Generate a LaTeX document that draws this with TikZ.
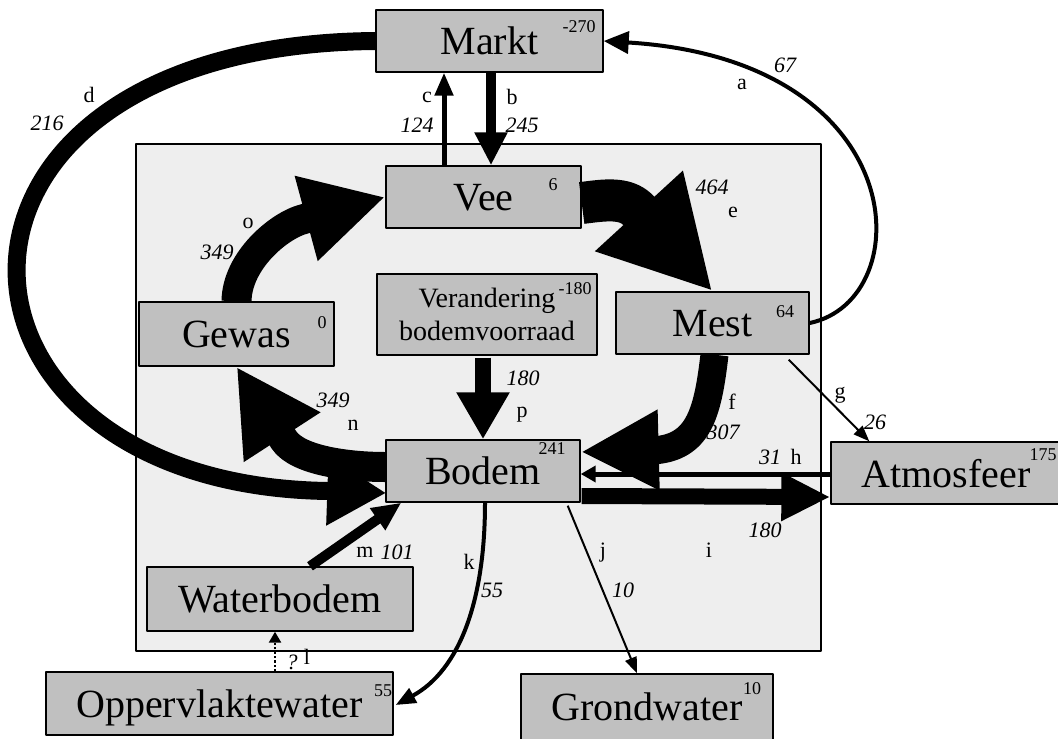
\documentclass[tikz,border=0pt]{standalone}
\usepackage{fontspec}
\setmainfont{Liberation Serif}
\usetikzlibrary{arrows.meta,calc}
\definecolor{boxgrey}{HTML}{C0C0C0}
\definecolor{farmgrey}{HTML}{EEEEEE}

\begin{document}
\begin{tikzpicture}[x=0.5pt,y=-0.5pt,line join=round,
  box/.style={draw,line width=0.7pt,fill=boxgrey,inner sep=0pt,text depth=0pt,font=\fontsize{20}{24}\selectfont},
  sup/.style={inner sep=0pt,font=\fontsize{9}{10}\selectfont},
  lbl/.style={inner sep=0pt,font=\fontsize{11}{13}\selectfont},
  num/.style={inner sep=0pt,font=\fontsize{11}{13}\selectfont\itshape},
  flow/.style n args={3}{line width=#1,-{Triangle[length=#2,width=#3]}}]

\useasboundingbox (0,0) rectangle (1058,738);

% Bedrijf
\filldraw[draw=black,fill=farmgrey,line width=0.6pt] (136,144) rectangle (821,651);

\node[box,minimum width=113.5pt,minimum height=31pt] (markt) at (489.5,41) {Markt};
\node[sup] (markt-n) at (579,27) {-270};

\node[box,minimum width=97.5pt,minimum height=31pt] (vee) at (483.5,197) {Vee};
\node[sup] (vee-n) at (553,185) {6};

\node[box,minimum width=97.5pt,minimum height=32pt] (gewas) at (236.5,334) {Gewas};
\node[sup] (gewas-n) at (322,323) {0};

\node[box,minimum width=110pt,minimum height=40.5pt,align=center,text depth=,font=\fontsize{14}{16.5}\selectfont] (verandering) at (487,314.5) {Verandering\\bodemvoorraad};
\node[sup] (verandering-n) at (575,289) {-180};

\node[box,minimum width=96.5pt,minimum height=31pt] (mest) at (712.5,323) {Mest};
\node[sup] (mest-n) at (785,312) {64};

\node[box,minimum width=97pt,minimum height=31pt] (bodem) at (483,471) {Bodem};
\node[sup] (bodem-n) at (552,449) {241};

\node[box,minimum width=115pt,minimum height=31pt] (atmosfeer) at (946,473) {Atmosfeer};
\node[sup] (atmosfeer-n) at (1043,455) {175};

\node[box,minimum width=133pt,minimum height=32pt] (waterbodem) at (280,599) {Waterbodem};

\node[box,minimum width=173.5pt,minimum height=31.5pt] (oppervlaktewater) at (219.5,703.5) {Oppervlaktewater};
\node[sup] (oppervlaktewater-n) at (383,691) {55};

\node[box,minimum width=126pt,minimum height=33pt] (grondwater) at (647,707) {Grondwater};
\node[sup] (grondwater-n) at (752,689) {10};

% Stromen
\draw[flow={2pt}{12.5pt}{11pt}] (mest.east) .. controls (920,300) and (915,60) .. (markt.east);
\draw[flow={5pt}{16.5pt}{15.5pt}] ($(markt.south)+(1.5,0)$) -- ($(vee.north)+(7.5,0)$);
\draw[flow={2.5pt}{11.5pt}{9pt}] ($(vee.north)+(-39.5,0)$) -- ($(markt.south)+(-45.5,0)$);
\draw[flow={9pt}{29.5pt}{32.5pt}] (markt.west) .. controls (-105,45) and (-85,485) .. (328,491) -- ($(bodem.west)+(1,22)$);
\draw[flow={21pt}{54.5pt}{55.5pt}] ($(vee.east)+(0,6)$) .. controls (605,200) and (625,197) .. (638,210) -- (mest.north);
\draw[flow={14pt}{39pt}{37.5pt}] ($(mest.south)+(2,0)$) .. controls (708,410) and (700,445) .. (658,450) -- ($(bodem.east)+(0,-19)$);
\draw[flow={1pt}{8pt}{6pt}] ($(mest.south east)+(-21,5)$) -- ($(atmosfeer.north west)+(39,0)$);
\draw[flow={2.5pt}{7.5pt}{8pt}] ($(atmosfeer.west)+(0,1)$) -- ($(bodem.east)+(0,3)$);
\draw[flow={8pt}{24.5pt}{22.5pt}] ($(bodem.east)+(1,25)$) -- ($(atmosfeer.west)+(0,24)$);
\draw[flow={1pt}{8pt}{6pt}] ($(bodem.south east)+(-13,3)$) -- ($(grondwater.north)+(-10,0)$);
\draw[flow={2pt}{10pt}{8pt}] ($(bodem.south)+(2,0)$) .. controls (485,600) and (460,670) .. ($(oppervlaktewater.east)+(2,1.5)$);
\draw[flow={1.2pt}{5.5pt}{6pt},densely dotted] ($(oppervlaktewater.north)+(55.5,0)$) -- ($(waterbodem.south)+(-5,0)$);
\draw[flow={5pt}{14.5pt}{12.5pt}] ($(waterbodem.north)+(30,0)$) -- ($(bodem.south west)+(16,0)$);
\draw[flow={15pt}{42pt}{42.5pt}] ($(bodem.west)+(0,-4)$) .. controls (350,467) and (298,461) .. (284,440) -- (gewas.south);
\draw[flow={15pt}{41pt}{41pt}] (gewas.north) .. controls (237,260) and (280,225) .. (304,219) -- (vee.west);
\draw[flow={8pt}{23.5pt}{25pt}] ($(verandering.south)+(-4,2)$) -- (bodem.north);

% Labels
\node[lbl] (a-lbl) at (742,84) {a};   \node[num] (a-val) at (785,65) {67};
\node[lbl] (b-lbl) at (512,97) {b};   \node[num] (b-val) at (522,125) {245};
\node[lbl] (c-lbl) at (427,97) {c};   \node[num] (c-val) at (417,125) {124};
\node[lbl] (d-lbl) at (89,95) {d};    \node[num] (d-val) at (47,123) {216};
\node[lbl] (e-lbl) at (733,212) {e};  \node[num] (e-val) at (712,187) {464};
\node[lbl] (f-lbl) at (732,402) {f};  \node[num] (f-val) at (723,432) {307};
\node[lbl] (g-lbl) at (840,395) {g};  \node[num] (g-val) at (875,422) {26};
\node[lbl] (h-lbl) at (796,457) {h};  \node[num] (h-val) at (770,457) {31};
\node[lbl] (i-lbl) at (709,550) {i};  \node[num] (i-val) at (765,530) {180};
\node[lbl] (j-lbl) at (603,553) {j};  \node[num] (j-val) at (623,590) {10};
\node[lbl] (k-lbl) at (469,562) {k};  \node[num] (k-val) at (492,590) {55};
\node[lbl] (l-lbl) at (307,657) {l};  \node[num] (l-val) at (292,662) {?};
\node[lbl] (m-lbl) at (365,552) {m};  \node[num] (m-val) at (397,552) {101};
\node[lbl] (n-lbl) at (353,425) {n};  \node[num] (n-val) at (333,400) {349};
\node[lbl] (o-lbl) at (248,223) {o};  \node[num] (o-val) at (217,252) {349};
\node[lbl] (p-lbl) at (522,415) {p};  \node[num] (p-val) at (523,378) {180};

\end{tikzpicture}
\end{document}
